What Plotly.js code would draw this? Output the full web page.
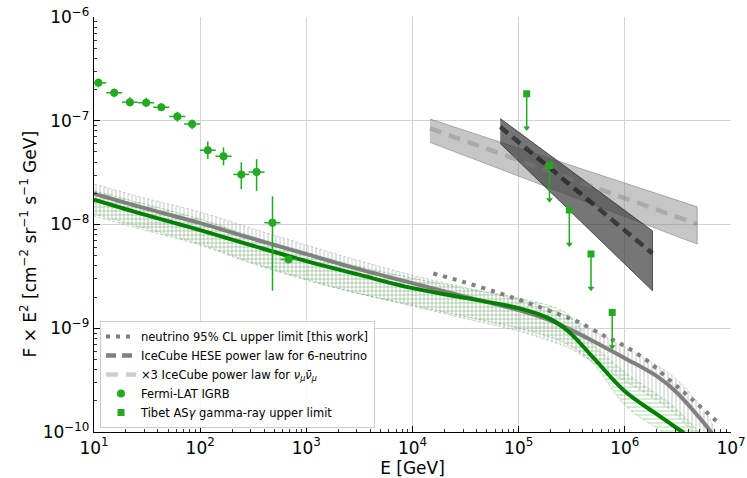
<!DOCTYPE html>
<html><head><meta charset="utf-8">
<script src="https://cdn.plot.ly/plotly-3.0.1.min.js"></script>
<style>html,body{margin:0;padding:0;background:#fff}</style>
</head><body><div id="chart" style="width:747px;height:478px"></div>
<script>
// ---------- data ----------
// model energy grid (GeV)
const modelE = [10, 30, 100, 300, 1e3, 3e3, 1e4, 3e4, 1e5, 2e5, 3e5, 5e5, 1e6, 2e6, 3e6, 5e6, 7e6];
// gray model line (neutrino) and its band
const grayLineF  = [1.986e-8,1.439e-8,1.031e-8,7.39e-9,5.18e-9,3.755e-9,2.72e-9,2.04e-9,1.494e-9,1.184e-9,9.80e-10,7.54e-10,5.15e-10,3.45e-10,2.47e-10,1.39e-10,9.03e-11];
const grayBandHi = [2.453e-8,1.797e-8,1.317e-8,9.23e-9,6.33e-9,4.54e-9,3.25e-9,2.49e-9,1.909e-9,1.528e-9,1.279e-9,9.59e-10,6.57e-10,4.41e-10,3.30e-10,1.853e-10,1.041e-10];
const grayBandLo = [1.260e-8,9.23e-9,6.47e-9,4.34e-9,2.975e-9,2.18e-9,1.633e-9,1.251e-9,9.38e-10,7.51e-10,6.43e-10,4.71e-10,3.09e-10,2.025e-10,1.484e-10,8.33e-11,5.11e-11];
// green model line (gamma) and its band
const greenE     = [10, 30, 100, 300, 1e3, 3e3, 1e4, 3e4, 1e5, 2e5, 3e5, 5e5, 1e6, 2e6, 3e6, 3.6e6];
const greenLineF = [1.738e-8,1.246e-8,8.83e-9,6.33e-9,4.44e-9,3.32e-9,2.435e-9,1.972e-9,1.562e-9,1.224e-9,9.17e-10,5.26e-10,2.47e-10,1.484e-10,1.112e-10,9.84e-11];
const greenBandHi = [2.113e-8,1.573e-8,1.127e-8,7.73e-9,5.42e-9,3.97e-9,3.04e-9,2.435e-9,1.951e-9,1.633e-9,1.337e-9,7.03e-10,3.77e-10,2.314e-10,1.696e-10,9.96e-11,6.68e-11];
const greenBandLo = [1.205e-8,8.83e-9,6.33e-9,4.245e-9,2.91e-9,2.18e-9,1.670e-9,1.308e-9,1.002e-9,8.21e-10,6.87e-10,4.61e-10,1.813e-10,1.088e-10,8.33e-11,5.35e-11,3.43e-11];
// neutrino 95% CL upper limit
const ulE = [1.57e4, 3.0e4, 6.65e4, 1.27e5, 2.27e5, 3.51e5, 6.25e5, 9.64e5, 1.60e6, 2.65e6, 4.40e6, 7.5e6];
const ulF = [3.37e-9, 2.80e-9, 2.17e-9, 1.73e-9, 1.39e-9, 1.17e-9, 8.57e-10, 6.87e-10, 4.92e-10, 3.16e-10, 2.02e-10, 1.24e-10];
// IceCube HESE power law (6-neutrino)
const heseE = [6.7e4, 1.82e6];
const heseF = [8.75e-8, 5.26e-9];
const heseHi = [1.05e-7, 8.69e-9];
const heseLo = [6.05e-8, 2.30e-9];
// x3 IceCube numu power law
const numuE = [1.46e4, 4.8e6];
const numuF = [8.45e-8, 1.01e-8];
const numuHi = [1.04e-7, 1.48e-8];
const numuLo = [6.19e-8, 6.47e-9];
// Fermi-LAT IGRB
const fermiE   = [11, 15.5, 21.8, 31, 43, 61, 84, 118, 166, 244, 340, 480, 680];
const fermiF   = [2.32e-7,1.86e-7,1.51e-7,1.49e-7,1.35e-7,1.10e-7,9.3e-8,5.2e-8,4.55e-8,3.04e-8,3.2e-8,1.04e-8,4.6e-9];
const fermiFHi = [2.56e-7,2.05e-7,1.68e-7,1.67e-7,1.47e-7,1.22e-7,1.03e-7,6.3e-8,5.53e-8,3.98e-8,4.27e-8,1.87e-8,4.6e-9];
const fermiFLo = [2.10e-7,1.68e-7,1.37e-7,1.36e-7,1.24e-7,9.8e-8,8.3e-8,4.27e-8,3.71e-8,2.19e-8,2.11e-8,2.3e-9,4.6e-9];
const fermiBinHalfDex = 0.075;
// Tibet AS-gamma upper limits
const tibetE = [1.19e5, 1.95e5, 3.0e5, 4.8e5, 7.6e5];
const tibetF = [1.82e-7, 3.7e-8, 1.38e-8, 5.2e-9, 1.42e-9];
// ticks
const xTickVals = [1e1,1e2,1e3,1e4,1e5,1e6,1e7];
const xTickText = ['10<sup>1</sup>','10<sup>2</sup>','10<sup>3</sup>','10<sup>4</sup>','10<sup>5</sup>','10<sup>6</sup>','10<sup>7</sup>'];
const yTickVals = [1e-10,1e-9,1e-8,1e-7,1e-6];
const yTickText = ['10<sup>\u221210</sup>','10<sup>\u22129</sup>','10<sup>\u22128</sup>','10<sup>\u22127</sup>','10<sup>\u22126</sup>'];

// ---------- helpers ----------
function poly(x, hi, lo) {
  return { x: x.concat(x.slice().reverse()), y: hi.concat(lo.slice().reverse()) };
}
function minorVals(a, b) {
  const v = [];
  for (let d = a; d < b; d++) for (let m = 2; m <= 9; m++) v.push(m * Math.pow(10, d));
  return v;
}
const ARROW_DEX = 0.33;
const GREEN = '#22aa22';

const gb = poly(modelE, grayBandHi, grayBandLo);
const grb = poly(modelE, greenBandHi, greenBandLo);
const hb = poly(heseE, heseHi, heseLo);
const nb = poly(numuE, numuHi, numuLo);

const traces = [
  { x: gb.x, y: gb.y, mode: 'lines', fill: 'toself', showlegend: false, hoverinfo: 'skip',
    fillcolor: 'rgba(0,0,0,0)',
    fillpattern: { shape: '|', fgcolor: 'rgba(150,150,150,0.7)', bgcolor: 'rgba(0,0,0,0)', size: 4, solidity: 0.2 },
    line: { color: 'rgba(160,160,160,0.7)', width: 0.7, dash: '3px,2px', shape: 'spline', smoothing: 1 } },
  { x: grb.x, y: grb.y, mode: 'lines', fill: 'toself', showlegend: false, hoverinfo: 'skip',
    fillcolor: 'rgba(0,0,0,0)',
    fillpattern: { shape: '-', fgcolor: 'rgba(60,170,60,0.55)', bgcolor: 'rgba(0,0,0,0)', size: 4, solidity: 0.2 },
    line: { color: 'rgba(60,170,60,0.6)', width: 0.7, dash: '3px,2px', shape: 'spline', smoothing: 1 } },
  { x: nb.x, y: nb.y, mode: 'lines', fill: 'toself', showlegend: false, hoverinfo: 'skip',
    fillcolor: 'rgba(128,128,128,0.45)', line: { color: 'rgba(128,128,128,0.6)', width: 1 } },
  { x: hb.x, y: hb.y, mode: 'lines', fill: 'toself', showlegend: false, hoverinfo: 'skip',
    fillcolor: 'rgba(60,60,60,0.7)', line: { color: 'rgba(50,50,50,0.8)', width: 1 } },
  { x: numuE, y: numuF, mode: 'lines', name: '\u00d73 IceCube power law for <i>\u03bd<sub>\u03bc</sub>\u03bd\u0304<sub>\u03bc</sub></i>',
    legendrank: 3, line: { color: 'rgba(128,128,128,0.4)', width: 4.5, dash: '12px,8px' } },
  { x: heseE, y: heseF, mode: 'lines', name: 'IceCube HESE power law for 6-neutrino',
    legendrank: 2, line: { color: 'rgba(0,0,0,0.5)', width: 4.5, dash: '10px,6px' } },
  { x: modelE, y: grayLineF, mode: 'lines', showlegend: false, line: { color: '#808080', width: 4, shape: 'spline', smoothing: 1 } },
  { x: greenE, y: greenLineF, mode: 'lines', showlegend: false, line: { color: '#008000', width: 4, shape: 'spline', smoothing: 1 } },
  { x: ulE, y: ulF, mode: 'lines', name: 'neutrino 95% CL upper limit [this work]',
    legendrank: 1, line: { color: '#808080', width: 4, dash: '4px,6px', shape: 'spline' } },
  { x: fermiE, y: fermiF, mode: 'markers', name: 'Fermi-LAT IGRB', legendrank: 4,
    marker: { color: GREEN, size: 8, symbol: 'circle' },
    error_y: { type: 'data', symmetric: false,
      array: fermiF.map((v, i) => fermiFHi[i] - v), arrayminus: fermiF.map((v, i) => v - fermiFLo[i]),
      color: GREEN, thickness: 1.5, width: 0 },
    error_x: { type: 'data', symmetric: false,
      array: fermiE.map(e => e * (Math.pow(10, fermiBinHalfDex) - 1)),
      arrayminus: fermiE.map(e => e * (1 - Math.pow(10, -fermiBinHalfDex))),
      color: GREEN, thickness: 1.5, width: 0 } },
  { x: tibetE, y: tibetF, mode: 'markers', name: 'Tibet AS<i>\u03b3</i> gamma-ray upper limit', legendrank: 5,
    marker: { color: GREEN, size: 7, symbol: 'square' },
    error_y: { type: 'data', symmetric: false, array: tibetF.map(() => 0),
      arrayminus: tibetF.map(v => v * (1 - Math.pow(10, -ARROW_DEX))),
      color: GREEN, thickness: 1.5, width: 0 } },
  { x: tibetE, y: tibetF.map(v => v * Math.pow(10, -ARROW_DEX)), mode: 'markers', showlegend: false,
    marker: { color: GREEN, size: 6, symbol: 'triangle-down' } }
];

const axisCommon = {
  type: 'log', showgrid: true, gridcolor: '#d4d4d4', gridwidth: 1,
  showline: true, linecolor: '#000', linewidth: 1.2, mirror: false,
  ticks: 'inside', ticklen: 6, tickwidth: 1.2, tickcolor: '#000',
  tickmode: 'array', zeroline: false,
  tickfont: { family: 'DejaVu Sans', size: 17, color: '#000' }
};

const layout = {
  width: 747, height: 478,
  margin: { l: 94, r: 16, t: 17, b: 46 },
  paper_bgcolor: '#fff', plot_bgcolor: '#fff',
  font: { family: 'DejaVu Sans', color: '#000' },
  showlegend: true,
  xaxis: Object.assign({}, axisCommon, {
    range: [1, 7], tickvals: xTickVals, ticktext: xTickText,
    minor: { tickmode: 'array', tickvals: minorVals(1, 7), ticks: 'inside', ticklen: 3, tickwidth: 0.8, tickcolor: '#000', showgrid: false },
    title: { text: 'E [GeV]', font: { family: 'DejaVu Sans', size: 17 }, standoff: 6 }
  }),
  yaxis: Object.assign({}, axisCommon, {
    range: [-10, -6], tickvals: yTickVals, ticktext: yTickText,
    minor: { tickmode: 'array', tickvals: minorVals(-10, -6), ticks: 'inside', ticklen: 3, tickwidth: 0.8, tickcolor: '#000', showgrid: false }
  }),
  annotations: [{
    text: 'F \u00d7 E<sup>2</sup> [cm<sup>\u22122</sup> sr<sup>\u22121</sup> s<sup>\u22121</sup> GeV]',
    xref: 'paper', yref: 'paper', x: 0, y: 0.5, xanchor: 'center', yanchor: 'middle',
    xshift: -66, yshift: -20, textangle: -90, showarrow: false,
    font: { family: 'DejaVu Sans', size: 17, color: '#000' }
  }],
  legend: {
    x: 0.0094, y: 0.0096, xanchor: 'left', yanchor: 'bottom',
    bgcolor: 'rgba(255,255,255,0.85)', bordercolor: '#cccccc', borderwidth: 1,
    font: { family: 'DejaVu Sans', size: 11.5, color: '#000' },
    tracegroupgap: 0, itemwidth: 30
  }
};

Plotly.newPlot('chart', traces, layout, { displayModeBar: false, staticPlot: true });
</script></body></html>
